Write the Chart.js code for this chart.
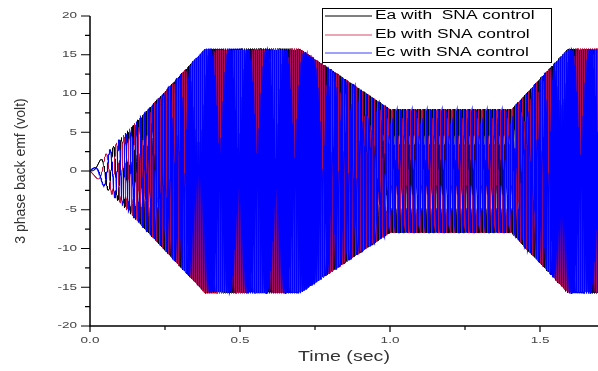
<!DOCTYPE html>
<html>
<head>
<meta charset="utf-8">
<script src="https://cdn.jsdelivr.net/npm/chart.js@4.4.1/dist/chart.umd.min.js"></script>
<style>
  html, body { margin: 0; padding: 0; background: #fff; overflow: hidden; }
  #wrap { width: 598px; height: 371px; position: relative; }
</style>
</head>
<body>
<div id="wrap"><canvas id="graph" width="598" height="371"></canvas></div>
<script>
// envelope of the back emf (sec, volt)
const envTime = [0, 0.383, 0.700, 1.000, 1.405, 1.593, 1.693];
const envPeak = [0, 15.8, 15.8, 8.0, 8.0, 15.8, 15.8];

// the three phases
const seriesLabels = ['Ea with  SNA control', 'Eb with SNA control', 'Ec with SNA control'];
const seriesColors = ['#000000', '#c8103c', '#0000ff'];
const seriesWidths = [1, 1, 1.15];
const phaseShift = [0, -120, 120];   // degrees
const hzPerVolt = 10;                // electrical frequency follows the speed
const sampleStep = 1 / 3000;         // sec between stored samples

// axes
const xMax = 1.6933;
const xTicks = [0.0, 0.5, 1.0, 1.5];
const xMinor = [0.25, 0.75, 1.25];
const yTicks = [-20, -15, -10, -5, 0, 5, 10, 15, 20];
const yMinor = [-17.5, -12.5, -7.5, -2.5, 2.5, 7.5, 12.5, 17.5];
const legendRows = [16, 35, 53];

function peakAt(t) {
    for (let i = 0; i < envTime.length - 1; i++) {
        if (t <= envTime[i + 1]) {
            const f = (t - envTime[i]) / (envTime[i + 1] - envTime[i]);
            return envPeak[i] + f * (envPeak[i + 1] - envPeak[i]);
        }
    }
    return envPeak[envPeak.length - 1];
}

const phaseData = [[], [], []];
let angle = 0;
for (let i = 0; i * sampleStep <= xMax + sampleStep; i++) {
    const t = i * sampleStep;
    const a = peakAt(t);
    for (let k = 0; k < 3; k++) {
        phaseData[k].push({ x: t, y: a * Math.sin(angle + phaseShift[k] * Math.PI / 180) });
    }
    angle += 2 * Math.PI * hzPerVolt * a * sampleStep;
}

// text looks stretched sideways in the original image
function wideText(ctx, text, x, y, font, sx, align, color) {
    ctx.save();
    ctx.font = font;
    ctx.fillStyle = color;
    ctx.textBaseline = 'middle';
    const w = ctx.measureText(text).width * sx;
    let left = x;
    if (align === 'right') left = x - w;
    if (align === 'center') left = x - w / 2;
    ctx.translate(left, y);
    ctx.scale(sx, 1);
    ctx.textAlign = 'left';
    ctx.fillText(text, 0, 0);
    ctx.restore();
}

const decorPlugin = {
    id: 'decor',
    afterDraw(chart) {
        const ctx = chart.ctx;
        const area = chart.chartArea;
        const xs = chart.scales.x;
        const ys = chart.scales.y;

        ctx.save();
        ctx.strokeStyle = '#000';
        ctx.lineWidth = 1.5;
        ctx.beginPath();
        ctx.moveTo(area.left, area.top);
        ctx.lineTo(area.left, area.bottom);
        ctx.lineTo(area.right, area.bottom);
        ctx.stroke();

        ctx.lineWidth = 1.2;
        ctx.beginPath();
        yTicks.forEach(v => { const p = ys.getPixelForValue(v); ctx.moveTo(area.left - 9, p); ctx.lineTo(area.left, p); });
        yMinor.forEach(v => { const p = ys.getPixelForValue(v); ctx.moveTo(area.left - 5, p); ctx.lineTo(area.left, p); });
        xTicks.forEach(v => { const p = xs.getPixelForValue(v); ctx.moveTo(p, area.bottom); ctx.lineTo(p, area.bottom + 6); });
        xMinor.forEach(v => { const p = xs.getPixelForValue(v); ctx.moveTo(p, area.bottom); ctx.lineTo(p, area.bottom + 4); });
        ctx.stroke();
        ctx.restore();

        yTicks.forEach(v => wideText(ctx, String(v), area.left - 13, ys.getPixelForValue(v), '9px Arial', 1.5, 'right', '#444'));
        xTicks.forEach(v => wideText(ctx, v.toFixed(1), xs.getPixelForValue(v), area.bottom + 15, '9px Arial', 1.5, 'center', '#444'));

        wideText(ctx, 'Time (sec)', (area.left + area.right) / 2, 357, '14px Arial', 1.4, 'center', '#333');

        ctx.save();
        ctx.translate(21, (area.top + area.bottom) / 2);
        ctx.rotate(-Math.PI / 2);
        ctx.font = '14px Arial';
        ctx.fillStyle = '#333';
        ctx.textAlign = 'center';
        ctx.textBaseline = 'middle';
        ctx.fillText('3 phase back emf (volt)', 0, 0);
        ctx.restore();

        // legend box inside the plot, top right
        ctx.save();
        ctx.fillStyle = '#fff';
        ctx.fillRect(322.5, 8.5, 229, 54);
        ctx.strokeStyle = '#000';
        ctx.lineWidth = 1;
        ctx.strokeRect(322.5, 8.5, 229, 54);
        chart.data.datasets.forEach((ds, i) => {
            ctx.strokeStyle = ds.borderColor;
            ctx.lineWidth = 1;
            ctx.globalAlpha = i === 0 ? 1 : 0.75;
            ctx.beginPath();
            ctx.moveTo(325, legendRows[i]);
            ctx.lineTo(372, legendRows[i]);
            ctx.stroke();
        });
        ctx.restore();
        chart.data.datasets.forEach((ds, i) => wideText(ctx, ds.label, 375, legendRows[i], '12px Arial', 1.45, 'left', '#000'));
    }
};

var ctx = document.getElementById('graph').getContext('2d');
var myChart = new Chart(ctx, {
    type: 'line',
    data: {
        datasets: seriesLabels.map((label, k) => ({
            label: label,
            data: phaseData[k],
            borderColor: seriesColors[k],
            borderWidth: seriesWidths[k],
            pointRadius: 0,
            tension: 0,
            fill: false,
            order: 2 - k // blue drawn on top
        }))
    },
    options: {
        responsive: false,
        animation: false,
        parsing: false,
        normalized: true,
        layout: { padding: { top: 16, left: 0, right: 0, bottom: 0 } },
        plugins: {
            legend: { display: false },
            tooltip: { enabled: false },
            title: { display: false }
        },
        scales: {
            x: {
                type: 'linear',
                min: 0,
                max: xMax,
                grid: { display: false },
                border: { display: false },
                ticks: { display: false },
                afterFit: s => { s.height = 45; }
            },
            y: {
                min: -20,
                max: 20,
                grid: { display: false },
                border: { display: false },
                ticks: { display: false },
                afterFit: s => { s.width = 90; }
            }
        }
    },
    plugins: [decorPlugin]
});
</script>
</body>
</html>
